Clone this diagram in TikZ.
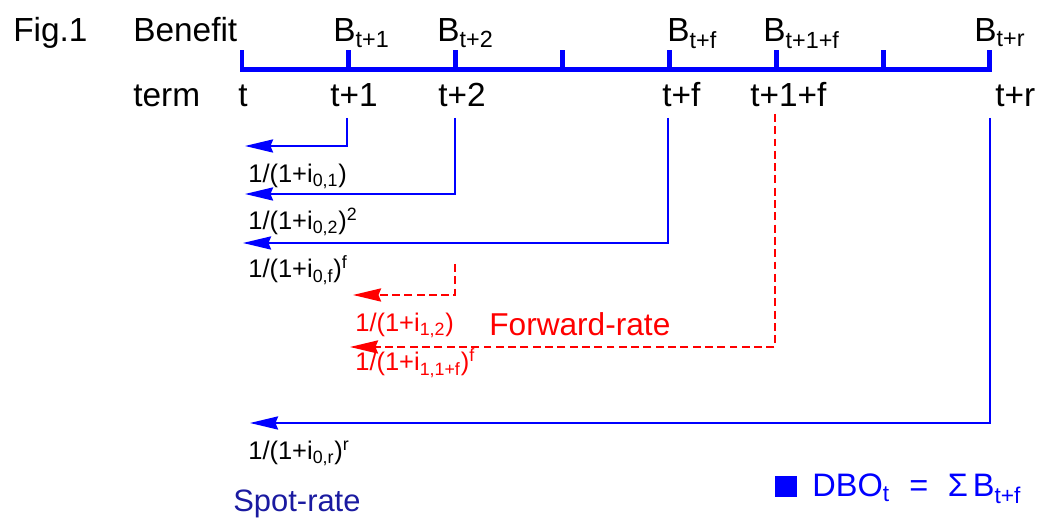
\documentclass[tikz,border=0pt]{standalone}
\usepackage{fontspec}
\setmainfont{Liberation Sans}
\usetikzlibrary{arrows.meta}
\definecolor{lineblue}{RGB}{0,0,255}
\definecolor{navytext}{RGB}{26,26,160}
\definecolor{fwdred}{RGB}{255,0,0}

\begin{document}
\begin{tikzpicture}[x=0.02cm, y=-0.02cm,
    big/.style={anchor=base west, inner sep=0pt, font=\fontsize{19}{22}\selectfont},
    rate/.style={anchor=base west, inner sep=0pt, font=\fontsize{14.5}{17}\selectfont},
    axis/.style={lineblue, line width=2.8pt},
    spot/.style={lineblue, line width=1pt, -{Stealth[length=16pt, width=7.5pt, inset=1.5pt]}},
    fwd/.style={fwdred, line width=1pt, dash pattern=on 4.5pt off 2.5pt, -{Stealth[length=16pt, width=7.5pt, inset=1.5pt]}}]
    \useasboundingbox (0,0) rectangle (1039,519);

    % Time axis
    \foreach \k in {0,...,7} {
        \coordinate (tk\k) at ({242+106.85*\k},69.5);
    }
    \draw[axis] (tk0) -- (tk7);
    \foreach \k in {0,...,7} {
        \draw[axis] (tk\k) ++(0,2.5) -- ++(0,-22);
    }

    % Header row
    \node[big] (fig) at (13,42) {Fig.1};
    \node[big] (benefit) at (133,42) {Benefit};
    \node[big] (b1) at (333,42) {B\textsubscript{t+1}};
    \node[big] (b2) at (437,42) {B\textsubscript{t+2}};
    \node[big] (bf) at (667,42) {B\textsubscript{t+f}};
    \node[big] (b1f) at (763,42) {B\textsubscript{t+1+f}};
    \node[big] (br) at (974,42) {B\textsubscript{t+r}};

    % Term row
    \node[big] (term) at (133,107) {term};
    \node[big] (t0) at (238,107) {t};
    \node[big] (t1) at (330,107) {t+1};
    \node[big] (t2) at (438,107) {t+2};
    \node[big] (tf) at (662,107) {t+f};
    \node[big] (t1f) at (750,107) {t+1+f};
    \node[big] (tr) at (995,107) {t+r};

    % Discount arrows
    \coordinate (s1) at (347,118);  \coordinate (e1) at (245,146);
    \coordinate (s2) at (455,118);  \coordinate (e2) at (245,194);
    \coordinate (sf) at (668,118);  \coordinate (ef) at (243,243);
    \coordinate (sr) at (990,118);  \coordinate (er) at (250,423);
    \coordinate (s12) at (455,264); \coordinate (e12) at (353,295);
    \coordinate (s1f) at (775,114); \coordinate (e1f) at (350,347);
    \draw[spot] (s1) |- (e1);
    \draw[spot] (s2) |- (e2);
    \draw[spot] (sf) |- (ef);
    \draw[spot] (sr) |- (er);
    \draw[fwd] (s12) |- (e12);
    \draw[fwd] (s1f) |- (e1f);

    % Discount factors
    \node[rate] (r01) at (248,183) {1/(1+i\textsubscript{0,1})};
    \node[rate] (r02) at (248,230) {1/(1+i\textsubscript{0,2})\textsuperscript{2}};
    \node[rate] (r0f) at (248,278) {1/(1+i\textsubscript{0,f})\textsuperscript{f}};
    \node[rate, text=fwdred] (r12) at (355,332) {1/(1+i\textsubscript{1,2})};
    \node[rate, text=fwdred] (r11f) at (355,371) {1/(1+i\textsubscript{1,1+f})\textsuperscript{f}};
    \node[rate] (r0r) at (248,460) {1/(1+i\textsubscript{0,r})\textsuperscript{r}};

    % Captions
    \node[anchor=base west, inner sep=0pt, text=fwdred, font=\fontsize{18}{21}\selectfont] (fwdlabel) at (489,336) {Forward-rate};
    \node[anchor=base west, inner sep=0pt, text=navytext, font=\fontsize{17.6}{20}\selectfont] (spotlabel) at (233,512) {Spot-rate};
    \fill[lineblue] (775,476) rectangle (797,497);
    \node[anchor=base west, inner sep=0pt, text=lineblue, font=\fontsize{18.5}{21}\selectfont] (dbo) at (812,497) {DBO\textsubscript{t}\hspace{0.6em}=\hspace{0.6em}Σ\hspace{0.15em}B\textsubscript{t+f}};
\end{tikzpicture}
\end{document}
